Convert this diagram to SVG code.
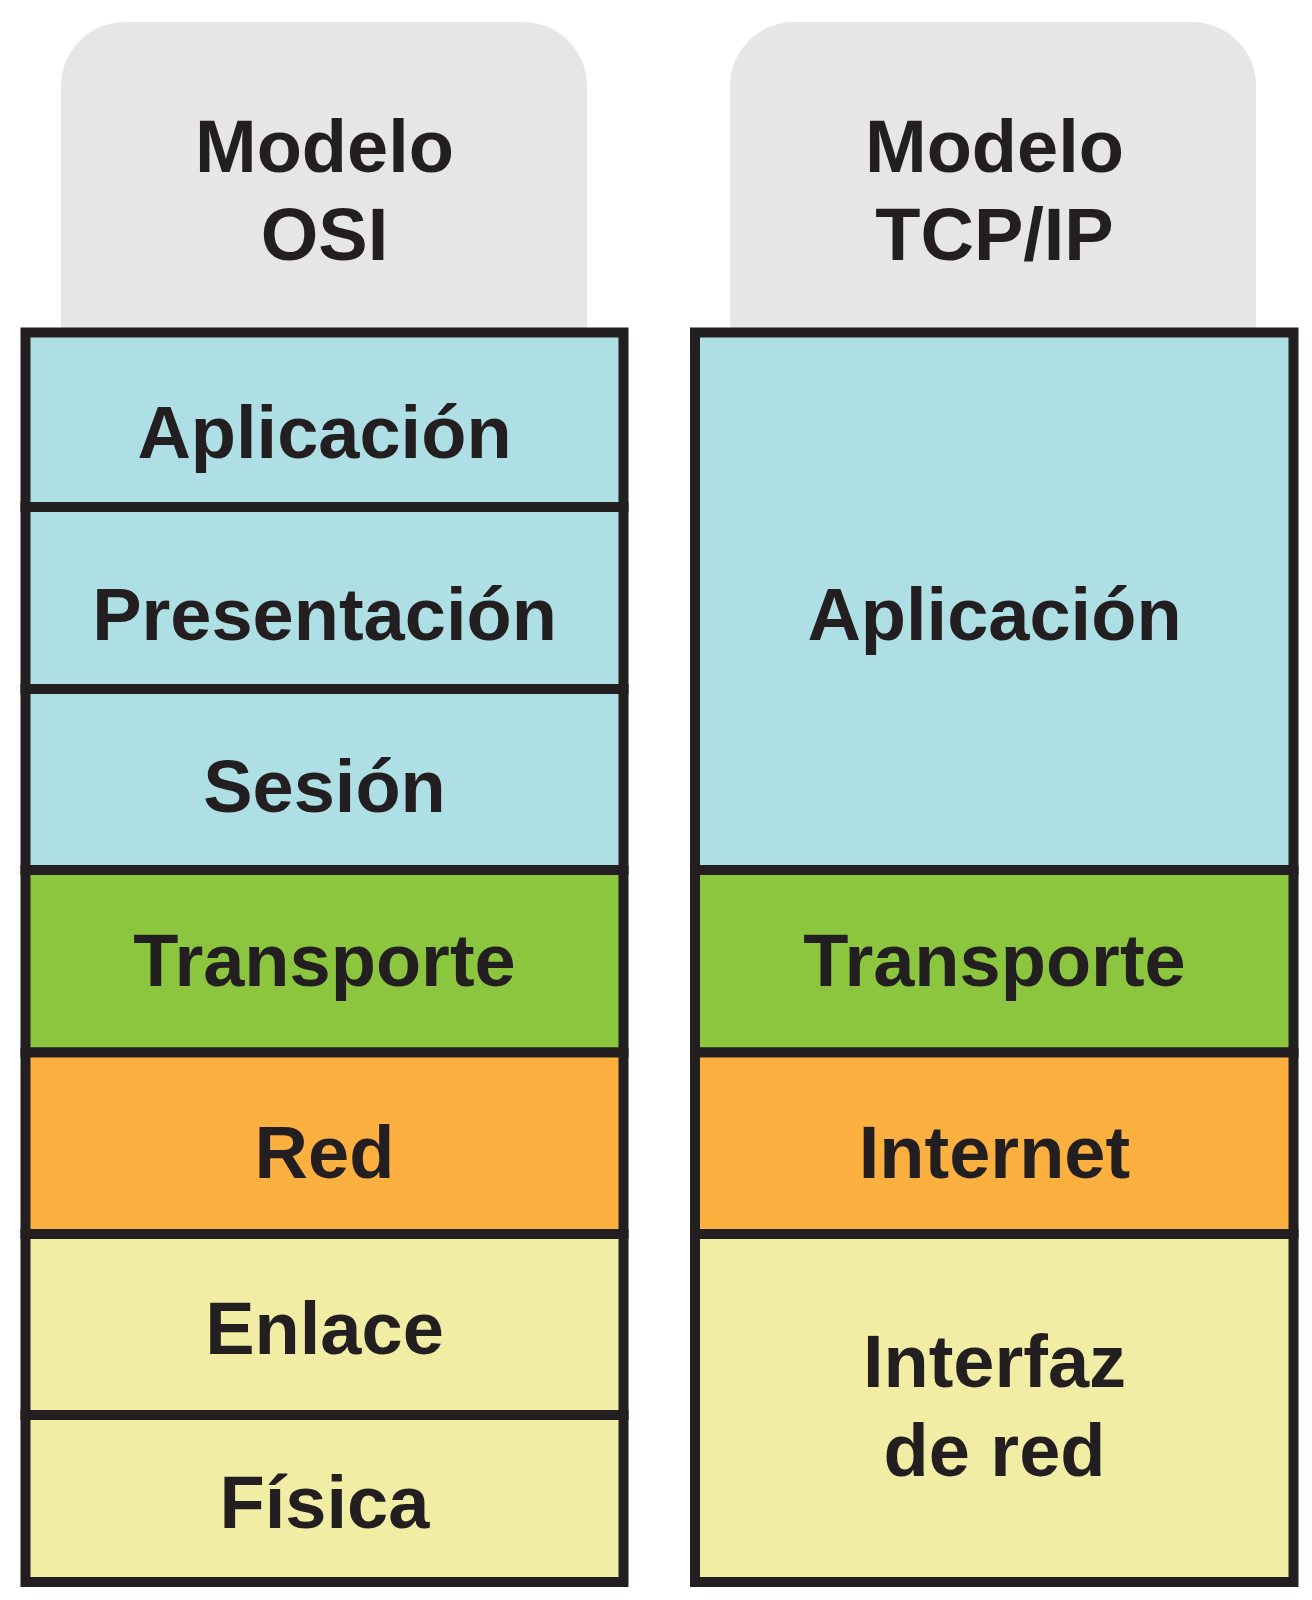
<svg xmlns="http://www.w3.org/2000/svg" width="1312" height="1600" viewBox="0 0 1312 1600">
  <style>
    .tab { fill: #E6E6E6; }
    .layer { stroke: #231F20; stroke-width: 10; }
    .blue { fill: #AEDFE4; }
    .green { fill: #8CC63F; }
    .orange { fill: #FBB040; }
    .yellow { fill: #F2EDA5; }
    .frame { fill: none; stroke: #231F20; stroke-width: 9; }
    text { font-family: "Liberation Sans", Arial, Helvetica, sans-serif; font-weight: bold; font-size: 74px; fill: #231F20; text-anchor: middle; }
  </style>
  <rect width="1312" height="1600" fill="#FFFFFF"/>

  <g id="osi-header">
    <path class="tab" d="M61,345 V86 A64,64 0 0 1 125,22 H523 A64,64 0 0 1 587,86 V345 Z"/>
    <text x="324.5" y="172">Modelo</text>
    <text x="324.5" y="260">OSI</text>
  </g>
  <g id="tcp-header">
    <path class="tab" d="M730,345 V86 A64,64 0 0 1 794,22 H1192 A64,64 0 0 1 1256,86 V345 Z"/>
    <text x="994.5" y="172">Modelo</text>
    <text x="994.5" y="260">TCP/IP</text>
  </g>

  <g id="osi-aplicacion">
    <rect class="layer blue" x="25.5" y="332.5" width="598" height="174.5"/>
    <text x="324.5" y="458">Aplicación</text>
  </g>
  <g id="osi-presentacion">
    <rect class="layer blue" x="25.5" y="507" width="598" height="182"/>
    <text x="324.5" y="640">Presentación</text>
  </g>
  <g id="osi-sesion">
    <rect class="layer blue" x="25.5" y="689" width="598" height="181"/>
    <text x="324.5" y="812">Sesión</text>
  </g>
  <g id="osi-transporte">
    <rect class="layer green" x="25.5" y="870" width="598" height="182.5"/>
    <text x="324.5" y="986">Transporte</text>
  </g>
  <g id="osi-red">
    <rect class="layer orange" x="25.5" y="1052.5" width="598" height="181.5"/>
    <text x="324.5" y="1178">Red</text>
  </g>
  <g id="osi-enlace">
    <rect class="layer yellow" x="25.5" y="1234" width="598" height="181"/>
    <text x="324.5" y="1354">Enlace</text>
  </g>
  <g id="osi-fisica">
    <rect class="layer yellow" x="25.5" y="1415" width="598" height="167"/>
    <text x="324.5" y="1528">Física</text>
  </g>
  <rect class="frame" x="25.5" y="332.5" width="598" height="1249.5"/>

  <g id="tcp-aplicacion">
    <rect class="layer blue" x="695" y="332.5" width="598.5" height="537.5"/>
    <text x="994.5" y="640">Aplicación</text>
  </g>
  <g id="tcp-transporte">
    <rect class="layer green" x="695" y="870" width="598.5" height="182.5"/>
    <text x="994.5" y="986">Transporte</text>
  </g>
  <g id="tcp-internet">
    <rect class="layer orange" x="695" y="1052.5" width="598.5" height="181.5"/>
    <text x="994.5" y="1178">Internet</text>
  </g>
  <g id="tcp-interfaz">
    <rect class="layer yellow" x="695" y="1234" width="598.5" height="348"/>
    <text x="994.5" y="1387">Interfaz</text>
    <text x="994.5" y="1476">de red</text>
  </g>
  <rect class="frame" x="695" y="332.5" width="598.5" height="1249.5"/>

  <g id="connectors"></g>
</svg>
